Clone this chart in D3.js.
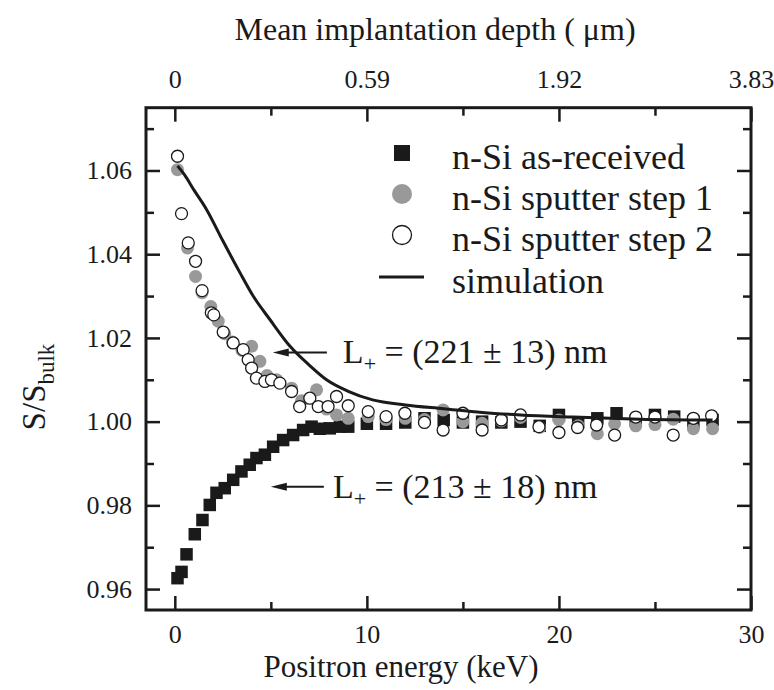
<!DOCTYPE html>
<html>
<head>
<meta charset="utf-8">
<script src="https://cdn.jsdelivr.net/npm/d3@7"></script>
<style>
body{margin:0;background:#fff;}
svg{display:block;font-family:"Liberation Serif","Times New Roman",serif;}
</style>
</head>
<body>
<svg id="chart" width="774" height="690"></svg>
<script>
// ---- data ----
const xTicks = [0, 10, 20, 30];
const xMinorTicks = [5, 15, 25];
const topTickLabels = ["0", "0.59", "1.92", "3.83"];
const yTicks = [0.96, 0.98, 1.00, 1.02, 1.04, 1.06];
const yMinorTicks = [0.97, 0.99, 1.01, 1.03, 1.05, 1.07];

const asReceivedE = [0.14,0.35,0.61,1.04,1.44,1.82,2.17,2.6,3.04,3.47,3.9,4.25,4.69,5.12,5.64,6.16,6.68,7.12,7.55,8.07,8.6,9.03,10,11,12,13,14,15,16,17,18,19,20,21,22,23,24,25,26,27,28];
const asReceivedS = [0.9626,0.9641,0.9683,0.9731,0.9765,0.9801,0.9830,0.9841,0.9861,0.9881,0.9897,0.9913,0.9921,0.9940,0.9956,0.9968,0.9980,0.9988,0.9983,0.9984,0.9988,0.9988,0.9995,0.9995,0.9998,1.0008,1.0004,0.9998,1.0000,0.9998,1.0000,0.9990,1.0016,0.9998,1.0008,1.0020,1.0003,1.0016,1.0012,1.0000,1.0004];

const step1E = [0.14,0.66,1.08,1.42,1.875,2.26,2.6,3.0,3.5,4.0,4.43,4.8,5.3,6.08,6.6,7.38,7.9,8.42,9.03,10.07,11,12,13,13.97,15,16,17,18,19,20,21,22,22.9,24,25,25.95,27,28];
const step1S = [1.0602,1.0415,1.0347,1.0308,1.0275,1.0240,1.0210,1.0190,1.0170,1.0180,1.0144,1.0110,1.0100,1.0080,1.0050,1.0076,1.0030,1.0016,1.0008,1.0012,1.0005,1.0008,1.0005,1.0028,1.0000,0.9996,1.0002,1.0010,0.9986,1.0004,0.9990,0.9971,0.9995,0.9990,0.9993,1.0006,0.9983,0.9983];

const step2E = [0.14,0.35,0.7,1.08,1.42,1.9,2.03,2.52,3.04,3.56,3.82,4.0,4.25,4.69,5.03,5.47,6.08,6.5,7.03,7.47,7.98,8.42,9.03,10.07,11,11.98,13,13.97,15,16,17,18,18.96,20,20.97,21.96,22.9,24,25,25.95,27,27.95];
const step2S = [1.0634,1.0497,1.0427,1.0383,1.0313,1.0260,1.0255,1.0214,1.0188,1.0172,1.0148,1.0128,1.0104,1.0096,1.0100,1.0092,1.0072,1.0036,1.0056,1.0036,1.0036,1.0060,1.0038,1.0024,1.0012,1.0020,0.9998,0.9980,1.0020,0.9980,1.0004,1.0016,0.9988,0.9974,0.9986,0.9992,0.9968,1.0011,1.0011,0.9968,1.0008,1.0014];

const simE = [0.14,0.5,1.0,1.65,2.5,3.39,4.08,4.95,6.0,7.0,7.9,9.0,10.3,12.0,14.0,16.0,18.0,20.7,24.2,28.0];
const simS = [1.0611,1.0590,1.0553,1.0507,1.0432,1.0356,1.0300,1.0244,1.0180,1.0135,1.0100,1.0073,1.0052,1.0040,1.0031,1.0022,1.0016,1.0011,1.0006,1.0004];

const legendLabels = ["n-Si as-received", "n-Si sputter step 1", "n-Si sputter step 2", "simulation"];

// ---- layout ----
const svg = d3.select("#chart");
const L = 146, R = 751, T = 107.7, B = 610;
const x = d3.scaleLinear().domain([-1.5, 30]).range([L, R]);
const y = d3.scaleLinear().domain([0.955, 1.075]).range([B, T]);

const tickW = 2.5;
function styleAxis(g){
  g.select(".domain").remove();
  g.selectAll(".tick line").attr("stroke","#1a1a1a").attr("stroke-width",tickW);
  g.selectAll(".tick text").attr("fill","#1a1a1a").style("font-family","'Liberation Serif',serif").style("font-size","26px");
}

// bottom
svg.append("g").attr("transform",`translate(0,${B})`)
  .call(d3.axisBottom(x).tickValues(xTicks).tickSize(-14).tickPadding(15).tickFormat(d3.format("d"))).call(styleAxis);
svg.append("g").attr("transform",`translate(0,${B})`)
  .call(d3.axisBottom(x).tickValues(xMinorTicks).tickSize(-8).tickFormat("")).call(styleAxis);
// top
svg.append("g").attr("transform",`translate(0,${T})`)
  .call(d3.axisTop(x).tickValues(xTicks).tickSize(-14).tickPadding(20).tickFormat((d,i)=>topTickLabels[i])).call(styleAxis);
svg.append("g").attr("transform",`translate(0,${T})`)
  .call(d3.axisTop(x).tickValues(xMinorTicks).tickSize(-8).tickFormat("")).call(styleAxis);
// left
svg.append("g").attr("transform",`translate(${L},0)`)
  .call(d3.axisLeft(y).tickValues(yTicks).tickSize(-14).tickPadding(14).tickFormat(d3.format(".2f"))).call(styleAxis);
svg.append("g").attr("transform",`translate(${L},0)`)
  .call(d3.axisLeft(y).tickValues(yMinorTicks).tickSize(-8).tickFormat("")).call(styleAxis);
// right
svg.append("g").attr("transform",`translate(${R},0)`)
  .call(d3.axisRight(y).tickValues(yTicks).tickSize(-14).tickFormat("")).call(styleAxis);
svg.append("g").attr("transform",`translate(${R},0)`)
  .call(d3.axisRight(y).tickValues(yMinorTicks).tickSize(-8).tickFormat("")).call(styleAxis);

// frame
svg.append("rect").attr("x",L).attr("y",T).attr("width",R-L).attr("height",B-T)
  .attr("fill","none").attr("stroke","#1a1a1a").attr("stroke-width",3);

// axis titles
svg.append("text").attr("x",401).attr("y",677).attr("text-anchor","middle")
  .attr("font-size",31).attr("fill","#1a1a1a").text("Positron energy (keV)");
svg.append("text").attr("x",435).attr("y",40).attr("text-anchor","middle")
  .attr("font-size",32).attr("fill","#1a1a1a").text("Mean implantation depth ( μm)");
const yt = svg.append("text").attr("transform","translate(45,387) rotate(-90)").attr("text-anchor","middle")
  .attr("font-size",33).attr("fill","#1a1a1a");
yt.append("tspan").text("S/S");
yt.append("tspan").attr("font-size",23).attr("dy",9).text("bulk");

// data
const sq = 12.5, r = 6.5;
const plot = svg.append("g");
plot.selectAll("rect.ar").data(asReceivedE.map((e,i)=>[e,asReceivedS[i]])).join("rect")
  .attr("class","ar").attr("x",d=>x(d[0])-sq/2).attr("y",d=>y(d[1])-sq/2)
  .attr("width",sq).attr("height",sq).attr("fill","#1a1a1a");
plot.selectAll("circle.s1").data(step1E.map((e,i)=>[e,step1S[i]])).join("circle")
  .attr("class","s1").attr("cx",d=>x(d[0])).attr("cy",d=>y(d[1])).attr("r",r).attr("fill","#999999");
plot.selectAll("circle.s2").data(step2E.map((e,i)=>[e,step2S[i]])).join("circle")
  .attr("class","s2").attr("cx",d=>x(d[0])).attr("cy",d=>y(d[1])).attr("r",r-0.5)
  .attr("fill","#fff").attr("stroke","#1a1a1a").attr("stroke-width",1.3);
plot.append("path").datum(simE.map((e,i)=>[e,simS[i]]))
  .attr("d",d3.line().x(d=>x(d[0])).y(d=>y(d[1])).curve(d3.curveMonotoneX))
  .attr("fill","none").attr("stroke","#1a1a1a").attr("stroke-width",3);

// legend
const lgX = 402, lgText = 452, rows = [153, 194, 235, 277];
const lg = svg.append("g").attr("font-size",36).attr("fill","#1a1a1a");
lg.append("rect").attr("x",lgX-8).attr("y",rows[0]-8).attr("width",16).attr("height",16).attr("fill","#1a1a1a");
lg.append("circle").attr("cx",lgX).attr("cy",rows[1]).attr("r",10).attr("fill","#999999");
lg.append("circle").attr("cx",lgX).attr("cy",rows[2]).attr("r",9.5).attr("fill","#fff").attr("stroke","#1a1a1a").attr("stroke-width",1.3);
lg.append("line").attr("x1",379).attr("x2",424).attr("y1",rows[3]).attr("y2",rows[3]).attr("stroke","#1a1a1a").attr("stroke-width",3);
legendLabels.forEach((t,i)=>{
  lg.append("text").attr("x",lgText).attr("y",rows[i]+16).text(t);
});

// annotations
function annot(ax1, ax2, ay, tx, ty, value){
  const x1 = x(ax1), x2 = x(ax2), yy = y(ay);
  svg.append("line").attr("x1",x1+12).attr("x2",x2).attr("y1",yy).attr("y2",yy)
    .attr("stroke","#1a1a1a").attr("stroke-width",2);
  svg.append("path").attr("d",`M${x1},${yy} L${x1+16},${yy-4} L${x1+16},${yy+4} Z`).attr("fill","#1a1a1a");
  const t = svg.append("text").attr("x",x(tx)).attr("y",y(ty)).attr("font-size",34).attr("fill","#1a1a1a");
  t.append("tspan").text("L");
  t.append("tspan").attr("font-size",22).attr("dy",8).text("+");
  t.append("tspan").attr("dy",-8).text(" = (" + value + ") nm");
}
annot(5.1, 7.92, 1.01653, 8.75, 1.0141, "221 ± 13");
annot(5.0, 7.76, 0.98447, 8.23, 0.98177, "213 ± 18");
</script>
</body>
</html>
